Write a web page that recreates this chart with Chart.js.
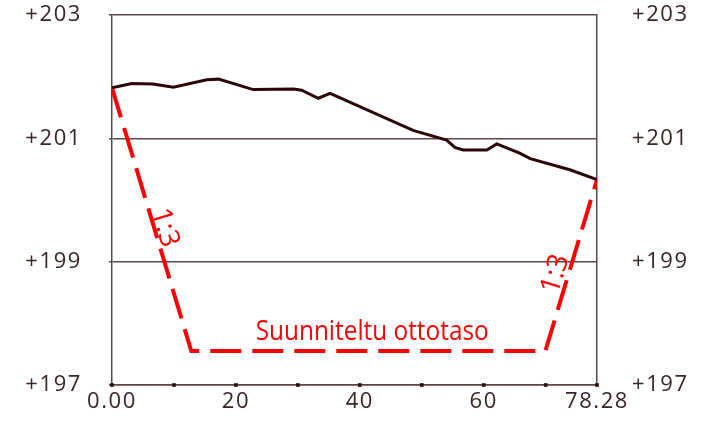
<!DOCTYPE html>
<html>
<head>
<meta charset="utf-8">
<script src="https://cdn.jsdelivr.net/npm/chart.js@4"></script>
<style>
  html, body { margin: 0; padding: 0; background: #ffffff; }
  #wrap { width: 711px; height: 422px; }
</style>
</head>
<body>
<div id="wrap"><canvas id="c" width="711" height="422"></canvas></div>
<script>
// Ground profile (distance m, elevation m)
const terrainX = [0, 3.2, 6.6, 9.9, 15.3, 17.2, 22.8, 29.3, 30.6, 33.3, 35.2, 48.6, 54.0, 55.4, 56.7, 60.5, 62.1, 65.8, 67.5, 73.9, 78.28];
const terrainY = [201.82, 201.89, 201.88, 201.83, 201.95, 201.96, 201.79, 201.80, 201.78, 201.65, 201.73, 201.13, 200.97, 200.85, 200.81, 200.81, 200.91, 200.76, 200.67, 200.49, 200.33];
// Planned excavation level (1:3 slopes)
const designX = [0, 12.8, 69.94, 78.28];
const designY = [201.82, 197.55, 197.55, 200.33];
// Axis ticks
const xTickValues = [0, 20, 40, 60, 78.28];
const xTickLabels = ['0.00', '20', '40', '60', '78.28'];
const xMarkValues = [0, 10, 20, 30, 40, 50, 60, 70, 78.28];
const yMin = 197, yMax = 203, yStep = 2;
// Annotations
const designLabel = 'Suunniteltu ottotaso';
const slopeLabel = '1:3';

const axisColor = '#5e4646';
const textColor = '#3a2424';
const redColor = '#ff0000';
const tickFont = { family: '"Open Sans"', size: 22, weight: 400 };
const spacing = '1.6px';

const spacingPlugin = {
  id: 'spacing',
  beforeLayout(chart) { chart.ctx.letterSpacing = spacing; },
  beforeDraw(chart) { chart.ctx.letterSpacing = spacing; }
};

const textPlugin = {
  id: 'texts',
  afterDatasetsDraw(chart) {
    const { ctx, scales: { x, y } } = chart;
    ctx.save();
    ctx.letterSpacing = '0px';
    ctx.fillStyle = redColor;
    ctx.textAlign = 'center';
    ctx.textBaseline = 'middle';
    // main label
    ctx.font = '27px "Open Sans"';
    const w = ctx.measureText(designLabel).width;
    const target = 233;
    ctx.save();
    ctx.translate(x.getPixelForValue(42), y.getPixelForValue(197.85));
    ctx.scale(target / w, 1);
    ctx.fillText(designLabel, 0, 0);
    ctx.restore();
    // slope labels
    ctx.font = '28px "Open Sans"';
    const px = (i) => x.getPixelForValue(designX[i]);
    const py = (i) => y.getPixelForValue(designY[i]);
    const a1 = Math.atan2(py(1) - py(0), px(1) - px(0));
    const a2 = Math.atan2(py(3) - py(2), px(3) - px(2));
    ctx.save();
    ctx.translate(x.getPixelForValue(8.5), y.getPixelForValue(199.55));
    ctx.rotate(a1);
    ctx.fillText(slopeLabel, 0, 0);
    ctx.restore();
    ctx.save();
    ctx.translate(x.getPixelForValue(71.6), y.getPixelForValue(198.8));
    ctx.rotate(a2);
    ctx.fillText(slopeLabel, 0, 0);
    ctx.restore();
    ctx.restore();
  }
};

const noPad = (s) => { s.paddingTop = 0; s.paddingBottom = 0; };

new Chart(document.getElementById('c'), {
  type: 'line',
  data: {
    datasets: [
      {
        label: 'Maanpinta',
        data: terrainX.map((v, i) => ({ x: v, y: terrainY[i] })),
        borderColor: '#2c0606',
        borderWidth: 3,
        pointRadius: 0,
        tension: 0,
        yAxisID: 'y',
        order: 1
      },
      {
        label: designLabel,
        data: designX.map((v, i) => ({ x: v, y: designY[i] })),
        borderColor: redColor,
        borderWidth: 4,
        borderDash: [31, 11],
        borderCapStyle: 'butt',
        pointRadius: 0,
        tension: 0,
        yAxisID: 'y',
        order: 2
      },
      {
        type: 'scatter',
        label: 'ticks',
        data: xMarkValues.map(v => ({ x: v, y: yMin })),
        pointStyle: 'rect',
        pointRadius: 2.6,
        pointBackgroundColor: '#2a1010',
        pointBorderWidth: 0,
        showLine: false,
        clip: false,
        yAxisID: 'y',
        order: 0
      }
    ]
  },
  options: {
    responsive: false,
    animation: false,
    devicePixelRatio: 1,
    layout: { padding: { top: 15, left: 0, right: 0, bottom: 0 } },
    plugins: { legend: { display: false }, tooltip: { enabled: false } },
    scales: {
      x: {
        type: 'linear',
        position: 'bottom',
        min: 0,
        max: 78.28,
        afterBuildTicks: (s) => { s.ticks = xTickValues.map(v => ({ value: v })); },
        afterFit: (s) => { s.height = 37; s.paddingLeft = 0; s.paddingRight = 0; },
        grid: { display: false },
        border: { display: true, color: axisColor, width: 1.5 },
        ticks: {
          autoSkip: false,
          maxRotation: 0,
          padding: -4,
          color: textColor,
          font: tickFont,
          callback: (v) => { const i = xTickValues.indexOf(v); return i >= 0 ? xTickLabels[i] : ''; }
        }
      },
      y: {
        type: 'linear',
        position: 'left',
        min: yMin,
        max: yMax,
        afterFit: (s) => { s.width = 112; noPad(s); },
        grid: { color: axisColor, lineWidth: 1.5, tickLength: 3, drawTicks: true },
        border: { display: true, color: axisColor, width: 1.5 },
        ticks: {
          stepSize: yStep,
          padding: 27,
          color: textColor,
          font: tickFont,
          callback: (v) => '+' + v
        }
      },
      y2: {
        type: 'linear',
        position: 'right',
        min: yMin,
        max: yMax,
        afterFit: (s) => { s.width = 114; noPad(s); },
        grid: { display: false, drawTicks: false },
        border: { display: true, color: axisColor, width: 1.5 },
        ticks: {
          stepSize: yStep,
          padding: 35,
          color: textColor,
          font: tickFont,
          callback: (v) => '+' + v
        }
      }
    }
  },
  plugins: [spacingPlugin, textPlugin]
});
</script>
</body>
</html>
